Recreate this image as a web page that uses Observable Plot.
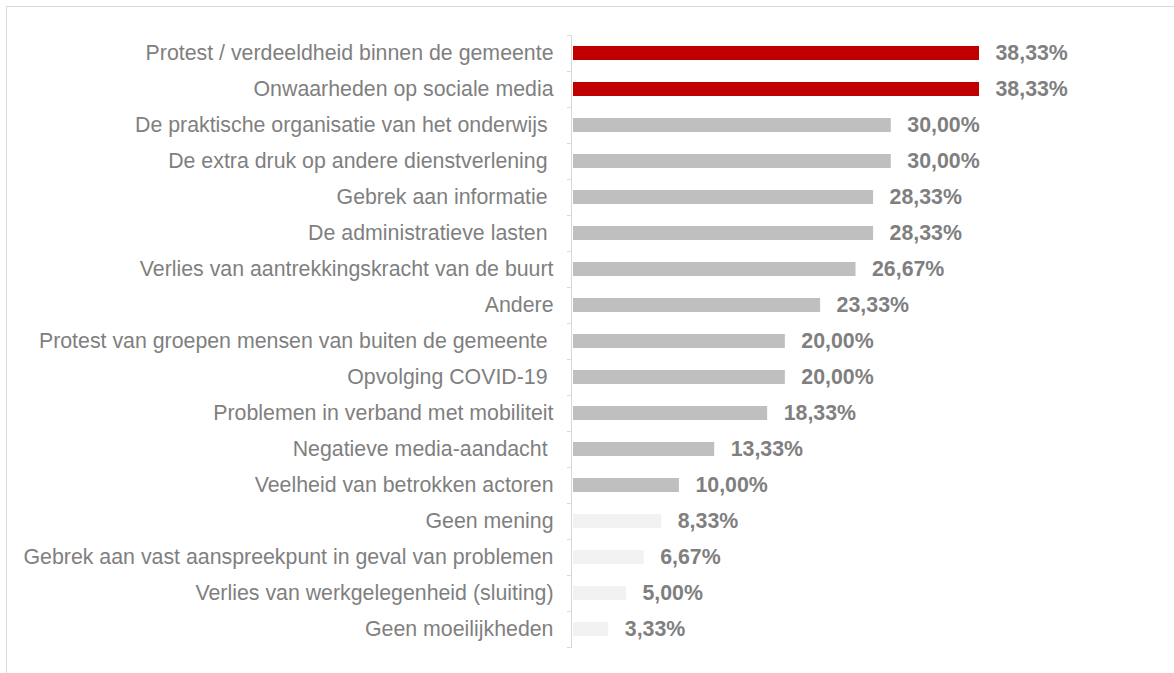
<!DOCTYPE html>
<html>
<head>
<meta charset="utf-8">
<script src="https://cdn.jsdelivr.net/npm/d3@7"></script>
<script src="https://cdn.jsdelivr.net/npm/@observablehq/plot@0.6"></script>
<style>
  html, body { margin: 0; padding: 0; background: #ffffff; }
  body { width: 1174px; height: 673px; overflow: hidden; position: relative; }
  #frame { position: absolute; left: 6px; top: 6px; width: 1400px; height: 900px;
           border-left: 1px solid #d9d9d9; border-top: 1px solid #d9d9d9; }
  #chart { position: absolute; left: 0; top: 0; }
</style>
</head>
<body>
<div id="frame"></div>
<div id="chart"></div>
<script>
// Categories (trailing spaces are part of the original labels)
const categories = [
  "Protest / verdeeldheid binnen de gemeente",
  "Onwaarheden op sociale media",
  "De praktische organisatie van het onderwijs ",
  "De extra druk op andere dienstverlening ",
  "Gebrek aan informatie ",
  "De administratieve lasten ",
  "Verlies van aantrekkingskracht van de buurt",
  "Andere",
  "Protest van groepen mensen van buiten de gemeente ",
  "Opvolging COVID-19 ",
  "Problemen in verband met mobiliteit",
  "Negatieve media-aandacht ",
  "Veelheid van betrokken actoren",
  "Geen mening",
  "Gebrek aan vast aanspreekpunt in geval van problemen",
  "Verlies van werkgelegenheid (sluiting)",
  "Geen moeilijkheden"
];
const values = [38.33, 38.33, 30.00, 30.00, 28.33, 28.33, 26.67, 23.33, 20.00, 20.00, 18.33, 13.33, 10.00, 8.33, 6.67, 5.00, 3.33];
const groups = ["hoog", "hoog", "midden", "midden", "midden", "midden", "midden", "midden", "midden", "midden", "midden", "midden", "midden", "laag", "laag", "laag", "laag"];
const groupNames = ["hoog", "midden", "laag"];
const groupColors = ["#C00000", "#BFBFBF", "#F2F2F2"];

const data = categories.map((c, i) => ({category: c, value: values[i], group: groups[i]}));

const W = 1174, H = 673;
const mTop = 35, mBottom = 25, mLeft = 573, mRight = 195;
const step = (H - mTop - mBottom) / categories.length;
const textColor = "#7f7f7f";
const axisColor = "#d9d9d9";
const fontSize = 21.33;

const fmt = v => v.toFixed(2).replace(".", ",") + "%";

const chart = Plot.plot({
  width: W,
  height: H,
  marginTop: mTop,
  marginBottom: mBottom,
  marginLeft: mLeft,
  marginRight: mRight,
  style: {fontFamily: "Arial, 'Liberation Sans', sans-serif", background: "transparent", overflow: "visible"},
  x: {domain: [0, 38.33], axis: null},
  y: {domain: categories, paddingInner: 0.61, paddingOuter: 0.305, label: null},
  color: {domain: groupNames, range: groupColors},
  marks: [
    Plot.barX(data, {x: "value", y: "category", fill: "group"}),
    Plot.ruleX([0], {dx: -2, stroke: axisColor, strokeWidth: 1}),
    Plot.ruleY(categories, {y: d => d, x1: 0, x2: 0, insetLeft: -6, insetRight: 2, dy: -step / 2, stroke: axisColor, strokeWidth: 1}),
    Plot.ruleY([categories[categories.length - 1]], {y: d => d, x1: 0, x2: 0, insetLeft: -6, insetRight: 2, dy: step / 2, stroke: axisColor, strokeWidth: 1}),
    Plot.axisY({
      label: null,
      tickSize: 0,
      tickPadding: 20,
      fontSize: fontSize,
      fill: textColor,
      tickFormat: d => d.replace(/ $/, "\u00a0")
    }),
    Plot.text(data, {
      x: "value",
      y: "category",
      text: d => fmt(d.value),
      dx: 16,
      textAnchor: "start",
      fontWeight: "bold",
      fontSize: fontSize,
      fill: textColor
    })
  ]
});
document.getElementById("chart").appendChild(chart);
</script>
</body>
</html>
